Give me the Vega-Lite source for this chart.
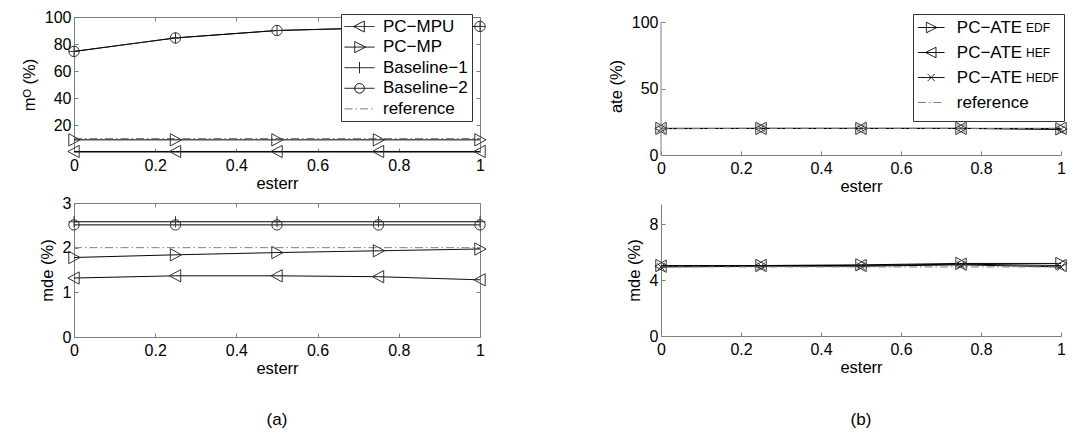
{
  "$schema": "https://vega.github.io/schema/vega-lite/v6.json",
  "padding": {"left": 20, "top": 8, "right": 0, "bottom": 0},
  "config": {
    "font": "Liberation Sans",
    "view": {"stroke": null},
    "axis": {"grid": false, "domainColor": "#7f7f7f", "tickColor": "#7f7f7f", "tickSize": -4, "labelFontSize": 16, "labelColor": "#000", "titleFontSize": 16.5, "titleFontWeight": "normal", "titleColor": "#000", "labelFont": "Liberation Sans", "titleFont": "Liberation Sans", "labelFlush": false, "labelOverlap": false},
    "axisX": {"labelPadding": 9, "titlePadding": 2},
    "axisY": {"labelPadding": 7, "titlePadding": 7},
    "title": {"fontSize": 17, "fontWeight": "normal", "font": "Liberation Sans", "color": "#000"}
  },
  "datasets": {
    "a_mo": [
      {"esterr": 0, "value": 0.4, "series": "PC−MPU"}, {"esterr": 0.25, "value": 0.4, "series": "PC−MPU"}, {"esterr": 0.5, "value": 0.4, "series": "PC−MPU"}, {"esterr": 0.75, "value": 0.4, "series": "PC−MPU"}, {"esterr": 1, "value": 0.4, "series": "PC−MPU"},
      {"esterr": 0, "value": 9, "series": "PC−MP"}, {"esterr": 0.25, "value": 9, "series": "PC−MP"}, {"esterr": 0.5, "value": 9, "series": "PC−MP"}, {"esterr": 0.75, "value": 9, "series": "PC−MP"}, {"esterr": 1, "value": 9, "series": "PC−MP"},
      {"esterr": 0, "value": 74.5, "series": "Baseline−1"}, {"esterr": 0.25, "value": 84.5, "series": "Baseline−1"}, {"esterr": 0.5, "value": 90, "series": "Baseline−1"}, {"esterr": 0.75, "value": 92, "series": "Baseline−1"}, {"esterr": 1, "value": 93, "series": "Baseline−1"},
      {"esterr": 0, "value": 74.5, "series": "Baseline−2"}, {"esterr": 0.25, "value": 84.5, "series": "Baseline−2"}, {"esterr": 0.5, "value": 90, "series": "Baseline−2"}, {"esterr": 0.75, "value": 92, "series": "Baseline−2"}, {"esterr": 1, "value": 93, "series": "Baseline−2"},
      {"esterr": 0, "value": 10, "series": "reference"}, {"esterr": 1, "value": 10, "series": "reference"}
    ],
    "a_mde": [
      {"esterr": 0, "value": 1.32, "series": "PC−MPU"}, {"esterr": 0.25, "value": 1.37, "series": "PC−MPU"}, {"esterr": 0.5, "value": 1.37, "series": "PC−MPU"}, {"esterr": 0.75, "value": 1.35, "series": "PC−MPU"}, {"esterr": 1, "value": 1.28, "series": "PC−MPU"},
      {"esterr": 0, "value": 1.78, "series": "PC−MP"}, {"esterr": 0.25, "value": 1.84, "series": "PC−MP"}, {"esterr": 0.5, "value": 1.89, "series": "PC−MP"}, {"esterr": 0.75, "value": 1.93, "series": "PC−MP"}, {"esterr": 1, "value": 1.97, "series": "PC−MP"},
      {"esterr": 0, "value": 2.58, "series": "Baseline−1"}, {"esterr": 0.25, "value": 2.58, "series": "Baseline−1"}, {"esterr": 0.5, "value": 2.58, "series": "Baseline−1"}, {"esterr": 0.75, "value": 2.58, "series": "Baseline−1"}, {"esterr": 1, "value": 2.58, "series": "Baseline−1"},
      {"esterr": 0, "value": 2.51, "series": "Baseline−2"}, {"esterr": 0.25, "value": 2.51, "series": "Baseline−2"}, {"esterr": 0.5, "value": 2.51, "series": "Baseline−2"}, {"esterr": 0.75, "value": 2.51, "series": "Baseline−2"}, {"esterr": 1, "value": 2.51, "series": "Baseline−2"},
      {"esterr": 0, "value": 2.0, "series": "reference"}, {"esterr": 1, "value": 2.0, "series": "reference"}
    ],
    "b_ate": [
      {"esterr": 0, "value": 20, "series": "PC−ATE_EDF"}, {"esterr": 0.25, "value": 20, "series": "PC−ATE_EDF"}, {"esterr": 0.5, "value": 20, "series": "PC−ATE_EDF"}, {"esterr": 0.75, "value": 20, "series": "PC−ATE_EDF"}, {"esterr": 1, "value": 19.6, "series": "PC−ATE_EDF"},
      {"esterr": 0, "value": 20, "series": "PC−ATE_HEF"}, {"esterr": 0.25, "value": 20, "series": "PC−ATE_HEF"}, {"esterr": 0.5, "value": 20, "series": "PC−ATE_HEF"}, {"esterr": 0.75, "value": 20, "series": "PC−ATE_HEF"}, {"esterr": 1, "value": 20, "series": "PC−ATE_HEF"},
      {"esterr": 0, "value": 19.8, "series": "PC−ATE_HEDF"}, {"esterr": 0.25, "value": 20, "series": "PC−ATE_HEDF"}, {"esterr": 0.5, "value": 20, "series": "PC−ATE_HEDF"}, {"esterr": 0.75, "value": 20, "series": "PC−ATE_HEDF"}, {"esterr": 1, "value": 19.2, "series": "PC−ATE_HEDF"},
      {"esterr": 0, "value": 20, "series": "reference"}, {"esterr": 1, "value": 20, "series": "reference"}
    ],
    "b_mde": [
      {"esterr": 0, "value": 5.05, "series": "PC−ATE_EDF"}, {"esterr": 0.25, "value": 5.05, "series": "PC−ATE_EDF"}, {"esterr": 0.5, "value": 5.1, "series": "PC−ATE_EDF"}, {"esterr": 0.75, "value": 5.2, "series": "PC−ATE_EDF"}, {"esterr": 1, "value": 5.2, "series": "PC−ATE_EDF"},
      {"esterr": 0, "value": 5.0, "series": "PC−ATE_HEF"}, {"esterr": 0.25, "value": 5.05, "series": "PC−ATE_HEF"}, {"esterr": 0.5, "value": 5.05, "series": "PC−ATE_HEF"}, {"esterr": 0.75, "value": 5.15, "series": "PC−ATE_HEF"}, {"esterr": 1, "value": 5.05, "series": "PC−ATE_HEF"},
      {"esterr": 0, "value": 4.95, "series": "PC−ATE_HEDF"}, {"esterr": 0.25, "value": 5.0, "series": "PC−ATE_HEDF"}, {"esterr": 0.5, "value": 5.0, "series": "PC−ATE_HEDF"}, {"esterr": 0.75, "value": 5.1, "series": "PC−ATE_HEDF"}, {"esterr": 1, "value": 4.95, "series": "PC−ATE_HEDF"},
      {"esterr": 0, "value": 4.95, "series": "reference"}, {"esterr": 1, "value": 4.95, "series": "reference"}
    ]
  },
  "spacing": 119,
  "resolve": {"scale": {"color": "independent", "strokeDash": "independent", "shape": "independent", "opacity": "independent"}, "legend": {"color": "independent", "strokeDash": "independent", "shape": "independent", "opacity": "independent"}},
  "hconcat": [
    {
      "spacing": 2,
      "resolve": {"scale": {"color": "independent", "strokeDash": "independent", "shape": "independent", "opacity": "independent"}, "legend": {"color": "independent", "strokeDash": "independent", "shape": "independent", "opacity": "independent"}},
      "vconcat": [
        {
          "width": 406, "height": 135,
          "view": {"stroke": "#7f7f7f"},
          "data": {"name": "a_mo"},
          "resolve": {"axis": {"x": "independent", "y": "independent"}},
          "layer": [
            {
              "mark": {"type": "line", "strokeWidth": 1},
              "encoding": {
                "x": {"field": "esterr", "type": "quantitative", "scale": {"domain": [0, 1]}, "axis": {"values": [0, 0.2, 0.4, 0.6, 0.8, 1], "format": "~g", "title": "esterr"}},
                "y": {"field": "value", "type": "quantitative", "scale": {"domain": [0, 100]}, "axis": {"values": [20, 40, 60, 80, 100], "title": "mᴼ (%)"}},
                "color": {"field": "series", "type": "nominal", "scale": {"domain": ["PC−MPU", "PC−MP", "Baseline−1", "Baseline−2", "reference"], "range": ["#000000", "#000000", "#000000", "#000000", "#7f7f7f"]},
                  "legend": {"orient": "none", "legendX": 267, "legendY": -3, "title": null, "padding": 4, "strokeColor": "#333", "fillColor": "#ffffff", "cornerRadius": 0, "symbolSize": 256, "symbolOffset": 6, "labelOffset": 15, "labelFontSize": 17, "labelColor": "#000", "rowPadding": 2.6, "symbolStrokeWidth": 1,
                    "encode": {"symbols": {"update": {"fill": {"value": "transparent"}, "shape": {"signal": "datum.value === 'PC−MPU' ? 'M-1.875,0L1.875,0M-0.75,0L0.6,-0.69L0.6,0.69Z' : datum.value === 'PC−MP' ? 'M-1.875,0L1.875,0M0.75,0L-0.6,-0.69L-0.6,0.69Z' : datum.value === 'Baseline−1' ? 'M-1.875,0L1.875,0M0,-0.69L0,0.69' : datum.value === 'Baseline−2' ? 'M-1.875,0L1.875,0M0.6,0A0.6,0.6 0 1,1 -0.6,0A0.6,0.6 0 1,1 0.6,0Z' : 'M-1.875,0L1.875,0'"}}}}}},
                "strokeDash": {"field": "series", "type": "nominal", "scale": {"domain": ["PC−MPU", "PC−MP", "Baseline−1", "Baseline−2", "reference"], "range": [[1, 0], [1, 0], [1, 0], [1, 0], [8, 3, 1.5, 3]]},
                  "legend": {"orient": "none", "legendX": 267, "legendY": -3, "title": null, "padding": 4, "strokeColor": "#333", "fillColor": "#ffffff", "cornerRadius": 0, "symbolSize": 256, "symbolOffset": 6, "labelOffset": 15, "labelFontSize": 17, "labelColor": "#000", "rowPadding": 2.6, "symbolStrokeWidth": 1,
                    "encode": {"symbols": {"update": {"fill": {"value": "transparent"}, "shape": {"signal": "datum.value === 'PC−MPU' ? 'M-1.875,0L1.875,0M-0.75,0L0.6,-0.69L0.6,0.69Z' : datum.value === 'PC−MP' ? 'M-1.875,0L1.875,0M0.75,0L-0.6,-0.69L-0.6,0.69Z' : datum.value === 'Baseline−1' ? 'M-1.875,0L1.875,0M0,-0.69L0,0.69' : datum.value === 'Baseline−2' ? 'M-1.875,0L1.875,0M0.6,0A0.6,0.6 0 1,1 -0.6,0A0.6,0.6 0 1,1 0.6,0Z' : 'M-1.875,0L1.875,0'"}}}}}}
              }
            },
            {
              "transform": [{"filter": "datum.series !== 'reference'"}],
              "mark": {"type": "point", "filled": false, "size": 150, "strokeWidth": 1, "color": "#333", "opacity": 1},
              "encoding": {
                "x": {"field": "esterr", "type": "quantitative", "axis": {"orient": "top", "values": [0, 0.2, 0.4, 0.6, 0.8, 1], "labels": false, "title": null, "domain": false}},
                "y": {"field": "value", "type": "quantitative", "axis": {"orient": "right", "values": [20, 40, 60, 80, 100], "labels": false, "title": null, "domain": false}},
                "shape": {"field": "series", "type": "nominal", "legend": null, "scale": {"domain": ["PC−MPU", "PC−MP", "Baseline−1", "Baseline−2"], "range": ["M-1,0L0.85,-1L0.85,1Z", "M1,0L-0.85,-1L-0.85,1Z", "M-0.9,0L0.9,0M0,-0.9L0,0.9", "M0.85,0A0.85,0.85 0 1,1 -0.85,0A0.85,0.85 0 1,1 0.85,0Z"]}}
              }
            }
          ]
        },
        {
          "width": 406, "height": 134,
          "view": {"stroke": "#7f7f7f"},
          "data": {"name": "a_mde"},
          "title": {"text": "(a)", "orient": "bottom", "frame": "group", "anchor": "middle", "offset": 35},
          "resolve": {"axis": {"x": "independent", "y": "independent"}},
          "layer": [
            {
              "mark": {"type": "line", "strokeWidth": 1},
              "encoding": {
                "x": {"field": "esterr", "type": "quantitative", "scale": {"domain": [0, 1]}, "axis": {"values": [0, 0.2, 0.4, 0.6, 0.8, 1], "format": "~g", "title": "esterr"}},
                "y": {"field": "value", "type": "quantitative", "scale": {"domain": [0, 3]}, "axis": {"values": [0, 1, 2, 3], "title": "mde (%)"}},
                "color": {"field": "series", "type": "nominal", "legend": null, "scale": {"domain": ["PC−MPU", "PC−MP", "Baseline−1", "Baseline−2", "reference"], "range": ["#000000", "#000000", "#000000", "#000000", "#7f7f7f"]}},
                "strokeDash": {"field": "series", "type": "nominal", "legend": null, "scale": {"domain": ["PC−MPU", "PC−MP", "Baseline−1", "Baseline−2", "reference"], "range": [[1, 0], [1, 0], [1, 0], [1, 0], [8, 3, 1.5, 3]]}}
              }
            },
            {
              "transform": [{"filter": "datum.series !== 'reference'"}],
              "mark": {"type": "point", "filled": false, "size": 150, "strokeWidth": 1, "color": "#333", "opacity": 1},
              "encoding": {
                "x": {"field": "esterr", "type": "quantitative", "axis": {"orient": "top", "values": [0, 0.2, 0.4, 0.6, 0.8, 1], "labels": false, "title": null, "domain": false}},
                "y": {"field": "value", "type": "quantitative", "axis": {"orient": "right", "values": [0, 1, 2, 3], "labels": false, "title": null, "domain": false}},
                "shape": {"field": "series", "type": "nominal", "legend": null, "scale": {"domain": ["PC−MPU", "PC−MP", "Baseline−1", "Baseline−2"], "range": ["M-1,0L0.85,-1L0.85,1Z", "M1,0L-0.85,-1L-0.85,1Z", "M-0.9,0L0.9,0M0,-0.9L0,0.9", "M0.85,0A0.85,0.85 0 1,1 -0.85,0A0.85,0.85 0 1,1 0.85,0Z"]}}
              }
            }
          ]
        }
      ]
    },
    {
      "spacing": 9,
      "resolve": {"scale": {"color": "independent", "strokeDash": "independent", "shape": "independent", "opacity": "independent"}, "legend": {"color": "independent", "strokeDash": "independent", "shape": "independent", "opacity": "independent"}},
      "vconcat": [
        {
          "width": 400, "height": 138,
          "data": {"name": "b_ate"},
          "layer": [
            {
              "mark": {"type": "line", "strokeWidth": 1},
              "encoding": {
                "x": {"field": "esterr", "type": "quantitative", "scale": {"domain": [0, 1]}, "axis": {"values": [0, 0.2, 0.4, 0.6, 0.8, 1], "format": "~g", "title": "esterr"}},
                "y": {"field": "value", "type": "quantitative", "scale": {"domain": [0, 103.8], "nice": false}, "axis": {"values": [0, 50, 100], "title": "ate (%)", "domain": false}},
                "color": {"field": "series", "type": "nominal", "scale": {"domain": ["PC−ATE_EDF", "PC−ATE_HEF", "PC−ATE_HEDF", "reference"], "range": ["#000000", "#000000", "#000000", "#7f7f7f"]},
                  "legend": {"orient": "none", "legendX": 252, "legendY": -3, "title": null, "padding": 5, "strokeColor": null, "fillColor": null, "symbolSize": 256, "symbolOffset": 4.7, "labelOffset": 17.1, "labelFontSize": 17, "labelColor": "#000", "rowPadding": 0, "symbolStrokeWidth": 1,
                    "labelExpr": "datum.label === 'reference' ? 'reference' : 'PC−ATE'",
                    "encode": {"symbols": {"update": {"fill": {"value": "transparent"}, "shape": {"signal": "datum.value === 'PC−ATE_EDF' ? 'M0,-1.156L0,-1.156M0,1.4375L0,1.4375M-1.66,0L1.66,0M0.7,0L-0.6,-0.66L-0.6,0.66Z' : datum.value === 'PC−ATE_HEF' ? 'M0,-1.156L0,-1.156M0,1.4375L0,1.4375M-1.66,0L1.66,0M-0.7,0L0.6,-0.66L0.6,0.66Z' : datum.value === 'PC−ATE_HEDF' ? 'M0,-1.156L0,-1.156M0,1.4375L0,1.4375M-1.66,0L1.66,0M-0.45,-0.45L0.45,0.45M-0.45,0.45L0.45,-0.45' : 'M0,-1.156L0,-1.156M0,1.4375L0,1.4375M-1.66,0L1.66,0'"}}}}}},
                "strokeDash": {"field": "series", "type": "nominal", "scale": {"domain": ["PC−ATE_EDF", "PC−ATE_HEF", "PC−ATE_HEDF", "reference"], "range": [[1, 0], [1, 0], [1, 0], [8, 3, 1.5, 3]]},
                  "legend": {"orient": "none", "legendX": 252, "legendY": -3, "title": null, "padding": 5, "strokeColor": null, "fillColor": null, "symbolSize": 256, "symbolOffset": 4.7, "labelOffset": 17.1, "labelFontSize": 17, "labelColor": "#000", "rowPadding": 0, "symbolStrokeWidth": 1,
                    "labelExpr": "datum.label === 'reference' ? 'reference' : 'PC−ATE'",
                    "encode": {"symbols": {"update": {"fill": {"value": "transparent"}, "shape": {"signal": "datum.value === 'PC−ATE_EDF' ? 'M0,-1.156L0,-1.156M0,1.4375L0,1.4375M-1.66,0L1.66,0M0.7,0L-0.6,-0.66L-0.6,0.66Z' : datum.value === 'PC−ATE_HEF' ? 'M0,-1.156L0,-1.156M0,1.4375L0,1.4375M-1.66,0L1.66,0M-0.7,0L0.6,-0.66L0.6,0.66Z' : datum.value === 'PC−ATE_HEDF' ? 'M0,-1.156L0,-1.156M0,1.4375L0,1.4375M-1.66,0L1.66,0M-0.45,-0.45L0.45,0.45M-0.45,0.45L0.45,-0.45' : 'M0,-1.156L0,-1.156M0,1.4375L0,1.4375M-1.66,0L1.66,0'"}}}}}}
              }
            },
            {
              "transform": [{"filter": "datum.series !== 'reference'"}],
              "mark": {"type": "point", "filled": false, "size": 150, "strokeWidth": 1, "color": "#333"},
              "encoding": {
                "x": {"field": "esterr", "type": "quantitative"},
                "y": {"field": "value", "type": "quantitative"},
                "shape": {"field": "series", "type": "nominal", "legend": null, "scale": {"domain": ["PC−ATE_EDF", "PC−ATE_HEF", "PC−ATE_HEDF"], "range": ["M1,0L-0.85,-1L-0.85,1Z", "M-1,0L0.85,-1L0.85,1Z", "M-0.6,-0.6L0.6,0.6M-0.6,0.6L0.6,-0.6"]}},
                "opacity": {"field": "series", "type": "nominal", "scale": {"domain": ["PC−ATE_EDF", "PC−ATE_HEF", "PC−ATE_HEDF", "blank"], "range": [1, 1, 1, 1]},
                  "legend": {"orient": "none", "legendX": 252, "legendY": -3, "title": null, "padding": 5, "strokeColor": "#333", "fillColor": null, "cornerRadius": 0, "symbolType": "M0,-1.156L0,-1.156M0,1.4375L0,1.4375", "symbolSize": 256, "symbolStrokeColor": "#000", "symbolStrokeWidth": 1, "symbolFillColor": "transparent", "labelOffset": 91, "labelFontSize": 12, "labelColor": "#000", "rowPadding": 0,
                    "labelExpr": "datum.label === 'blank' ? '' : replace(datum.label, 'PC−ATE_', '')",
                    "encode": {"symbols": {"update": {"fill": {"value": "transparent"}, "stroke": {"value": "#000"}, "opacity": {"value": 1}}}, "labels": {"update": {"dy": {"value": 6.5}}}}}}
              }
            },
            {
              "data": {"values": [{"x0": 0, "y0": 0, "y1": 100}]},
              "mark": {"type": "rule", "color": "#7f7f7f", "strokeWidth": 1},
              "encoding": {
                "x": {"field": "x0", "type": "quantitative"},
                "y": {"field": "y0", "type": "quantitative"},
                "y2": {"field": "y1"}
              }
            }
          ]
        },
        {
          "width": 400, "height": 132,
          "data": {"name": "b_mde"},
          "title": {"text": "(b)", "orient": "bottom", "frame": "group", "anchor": "middle", "offset": 36},
          "layer": [
            {
              "mark": {"type": "line", "strokeWidth": 1},
              "encoding": {
                "x": {"field": "esterr", "type": "quantitative", "scale": {"domain": [0, 1]}, "axis": {"values": [0, 0.2, 0.4, 0.6, 0.8, 1], "format": "~g", "title": "esterr"}},
                "y": {"field": "value", "type": "quantitative", "scale": {"domain": [0, 9.46], "nice": false}, "axis": {"values": [0, 2, 4, 6, 8], "title": "mde (%)"}},
                "color": {"field": "series", "type": "nominal", "legend": null, "scale": {"domain": ["PC−ATE_EDF", "PC−ATE_HEF", "PC−ATE_HEDF", "reference"], "range": ["#000000", "#000000", "#000000", "#7f7f7f"]}},
                "strokeDash": {"field": "series", "type": "nominal", "legend": null, "scale": {"domain": ["PC−ATE_EDF", "PC−ATE_HEF", "PC−ATE_HEDF", "reference"], "range": [[1, 0], [1, 0], [1, 0], [8, 3, 1.5, 3]]}}
              }
            },
            {
              "transform": [{"filter": "datum.series !== 'reference'"}],
              "mark": {"type": "point", "filled": false, "size": 150, "strokeWidth": 1, "color": "#333", "opacity": 1},
              "encoding": {
                "x": {"field": "esterr", "type": "quantitative"},
                "y": {"field": "value", "type": "quantitative"},
                "shape": {"field": "series", "type": "nominal", "legend": null, "scale": {"domain": ["PC−ATE_EDF", "PC−ATE_HEF", "PC−ATE_HEDF"], "range": ["M1,0L-0.85,-1L-0.85,1Z", "M-1,0L0.85,-1L0.85,1Z", "M-0.6,-0.6L0.6,0.6M-0.6,0.6L0.6,-0.6"]}}
              }
            }
          ]
        }
      ]
    }
  ]
}
